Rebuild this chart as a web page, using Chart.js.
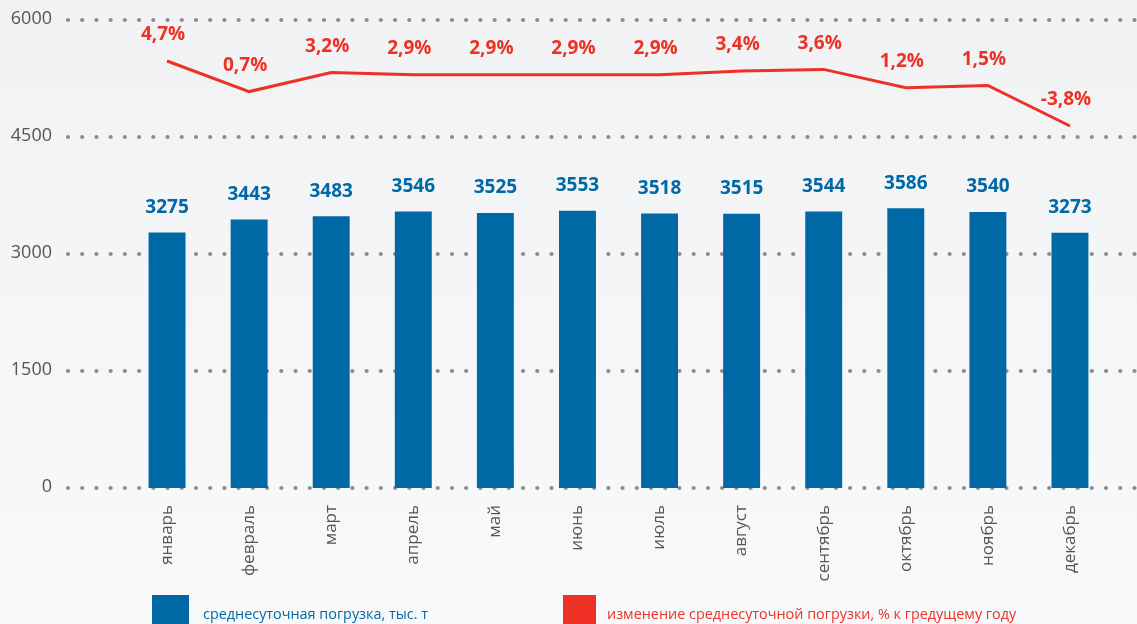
<!DOCTYPE html>
<html>
<head>
<meta charset="utf-8">
<script src="https://cdn.jsdelivr.net/npm/chart.js@4"></script>
<style>
  html, body { margin: 0; padding: 0; }
  body { width: 1137px; height: 624px; background: linear-gradient(#f1f2f4, #f8f9fa); overflow: hidden; }
  canvas { display: block; }
</style>
</head>
<body>
<canvas id="myChart" width="1137" height="624"></canvas>
<script>
var months = ['январь', 'февраль', 'март', 'апрель', 'май', 'июнь',
  'июль', 'август', 'сентябрь', 'октябрь', 'ноябрь', 'декабрь'];
var loading = [3275, 3443, 3483, 3546, 3525, 3553, 3518, 3515, 3544, 3586, 3540, 3273];
var change = [4.7, 0.7, 3.2, 2.9, 2.9, 2.9, 2.9, 3.4, 3.6, 1.2, 1.5, -3.8];
var yTicks = [0, 1500, 3000, 4500, 6000];
var legendLabels = ['среднесуточная погрузка, тыс. т', 'изменение среднесуточной погрузки, % к гредущему году'];

var blue = '#0069a5';
var red = '#ee3124';
var font = '"Open Sans", "Noto Sans", sans-serif';

// dotted grid lines + left tick labels, drawn behind bars
var dotGrid = {
  id: 'dotGrid',
  beforeDatasetsDraw: function(chart) {
    var c = chart.ctx, y = chart.scales.y;
    c.save();
    c.font = '18px ' + font;
    c.textAlign = 'right';
    c.textBaseline = 'middle';
    yTicks.forEach(function(t) {
      var py = y.getPixelForValue(t);
      c.fillStyle = '#555';
      c.fillText(String(t), 52, py - 1);
      c.fillStyle = '#8c8c8c';
      for (var x = 68; x < chart.width; x += 14.22) {
        c.beginPath();
        c.arc(x, py, 2.1, 0, Math.PI * 2);
        c.fill();
      }
    });
    c.restore();
  }
};

// value labels above bars and line points
var valueLabels = {
  id: 'valueLabels',
  afterDatasetsDraw: function(chart) {
    var c = chart.ctx;
    c.save();
    c.textAlign = 'center';
    c.textBaseline = 'middle';
    c.font = 'bold 19px ' + font;
    chart.getDatasetMeta(0).data.forEach(function(el, i) {
      c.fillStyle = blue;
      c.fillText(String(loading[i]), el.x, el.y - 25);
    });
    chart.getDatasetMeta(1).data.forEach(function(el, i) {
      c.fillStyle = red;
      c.fillText(change[i].toFixed(1).replace('.', ',') + '%', el.x - 4, el.y - 26);
    });
    c.restore();
  }
};

// legend at fixed spots at the bottom
var bottomLegend = {
  id: 'bottomLegend',
  afterDraw: function(chart) {
    var c = chart.ctx;
    c.save();
    c.font = '14.4px ' + font;
    c.textBaseline = 'middle';
    c.fillStyle = blue;
    c.fillRect(152, 595, 37, 32);
    c.fillText(legendLabels[0], 203, 615);
    c.fillStyle = red;
    c.fillRect(563, 595, 33, 32);
    c.fillText(legendLabels[1], 607, 615);
    c.restore();
  }
};

var ctx = document.getElementById('myChart');
var myChart = new Chart(ctx, {
  data: {
    labels: months,
    datasets: [{
      type: 'bar',
      data: loading,
      backgroundColor: blue,
      barPercentage: 0.45,
      categoryPercentage: 1,
      yAxisID: 'y',
      order: 2
    }, {
      type: 'line',
      data: change,
      borderColor: red,
      borderWidth: 3,
      pointRadius: 0,
      tension: 0,
      yAxisID: 'y1',
      order: 1
    }]
  },
  options: {
    responsive: false,
    animation: false,
    layout: { padding: { top: 20, right: 26, left: 0, bottom: 0 } },
    plugins: { legend: { display: false }, tooltip: { enabled: false } },
    scales: {
      x: {
        grid: { display: false, drawTicks: false },
        border: { display: false },
        ticks: {
          maxRotation: 90, minRotation: 90, padding: 17, autoSkip: false,
          color: '#555', font: { family: font, size: 17 }
        },
        afterFit: function(s) { s.height = 136; }
      },
      y: {
        min: 0, max: 6000,
        grid: { display: false, drawTicks: false },
        border: { display: false },
        ticks: { display: false },
        afterFit: function(s) { s.width = 126; }
      },
      y1: {
        display: false,
        min: -51.14, max: 10.06
      }
    }
  },
  plugins: [dotGrid, valueLabels, bottomLegend]
});
</script>
</body>
</html>
